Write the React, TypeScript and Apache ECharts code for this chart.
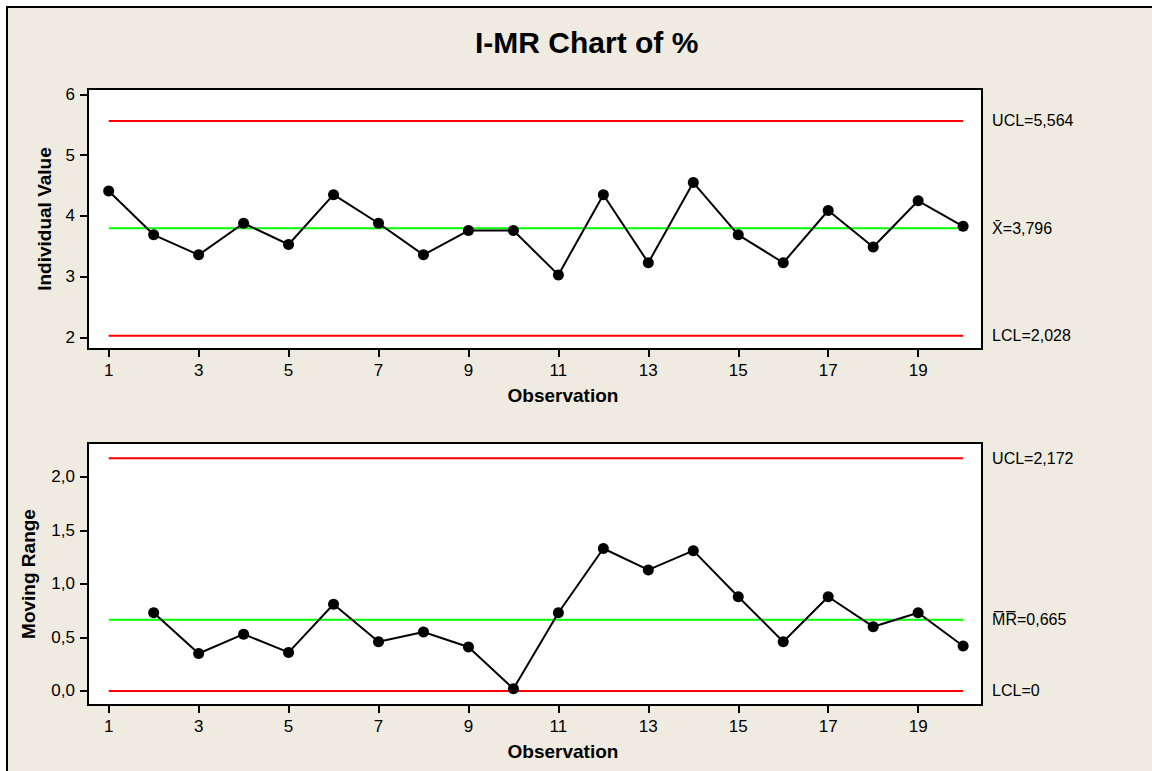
import React, { useEffect, useRef } from "react";
import * as echarts from "echarts";

const observations = [1, 2, 3, 4, 5, 6, 7, 8, 9, 10, 11, 12, 13, 14, 15, 16, 17, 18, 19, 20];
const individualValues = [4.41, 3.69, 3.36, 3.88, 3.53, 4.35, 3.88, 3.36, 3.76, 3.76, 3.03, 4.35, 3.23, 4.55, 3.69, 3.23, 4.09, 3.49, 4.25, 3.83];
const movingRanges = [null, 0.73, 0.35, 0.53, 0.36, 0.81, 0.46, 0.55, 0.41, 0.02, 0.73, 1.33, 1.13, 1.31, 0.88, 0.46, 0.88, 0.6, 0.73, 0.42];

const xTickValues = [1, 3, 5, 7, 9, 11, 13, 15, 17, 19];
const iTickValues = [2, 3, 4, 5, 6];
const mrTickValues = [0, 0.5, 1.0, 1.5, 2.0];

const iLimits = { ucl: 5.564, center: 3.796, lcl: 2.028 };
const mrLimits = { ucl: 2.172, center: 0.665, lcl: 0 };

const FONT = "'Liberation Sans', Arial, sans-serif";
const RED = "#ff0000";
const GREEN = "#00ff00";

const comma = (v: number, d: number) => v.toFixed(d).replace(".", ",");

export default function App() {
  const ref = useRef<HTMLDivElement>(null);

  useEffect(() => {
    if (!ref.current) return;
    const chart = echarts.init(ref.current, null, { renderer: "svg" });

    const first = observations[0];
    const last = observations[observations.length - 1];

    const limitSeries = (
      xIdx: number,
      value: number,
      color: string,
      label: string
    ) => ({
      type: "line",
      xAxisIndex: xIdx,
      yAxisIndex: xIdx,
      data: [
        [first, value],
        [last, value],
      ],
      symbol: "none",
      silent: true,
      lineStyle: { color, width: 2 },
      z: 2,
      endLabel: {
        show: true,
        formatter: label,
        distance: 29,
        color: "#000",
        fontSize: 16,
        fontFamily: FONT,
      },
    });

    const xAxisBase = (gridIndex: number) => ({
      type: "value",
      gridIndex,
      min: 0.54,
      max: 20.42,
      name: "Observation",
      nameLocation: "middle",
      nameGap: 37,
      nameTextStyle: {
        fontSize: 19,
        fontWeight: "bold",
        fontFamily: FONT,
        color: "#000",
        padding: [0, 0, 0, 56],
      },
      axisLine: { show: true, onZero: false, lineStyle: { color: "#000", width: 2 } },
      axisTick: {
        show: true,
        customValues: xTickValues,
        length: 8,
        lineStyle: { color: "#000", width: 2 },
      },
      axisLabel: {
        customValues: xTickValues,
        margin: 13,
        fontSize: 17,
        fontFamily: FONT,
        color: "#000",
      },
      splitLine: { show: false },
    });

    const option: any = {
      animation: false,
      backgroundColor: "#ffffff",
      title: {
        text: "I-MR Chart of %",
        left: 470,
        top: 22,
        textStyle: { fontSize: 30, fontWeight: "bold", fontFamily: FONT, color: "#000" },
      },
      graphic: [
        {
          type: "rect",
          z: -10,
          silent: true,
          shape: { x: 7, y: 7, width: 2000, height: 2000 },
          style: { fill: "#efebe1", stroke: "#000", lineWidth: 2 },
        },
      ],
      grid: [
        {
          left: 88,
          top: 89,
          width: 894,
          height: 260,
          show: true,
          backgroundColor: "#ffffff",
          borderColor: "#000",
          borderWidth: 2,
        },
        {
          left: 88,
          top: 443,
          width: 894,
          height: 262,
          show: true,
          backgroundColor: "#ffffff",
          borderColor: "#000",
          borderWidth: 2,
        },
      ],
      xAxis: [xAxisBase(0), xAxisBase(1)],
      yAxis: [
        {
          type: "value",
          gridIndex: 0,
          min: 1.81,
          max: 6.09,
          name: "Individual Value",
          nameLocation: "middle",
          nameGap: 34,
          nameTextStyle: { fontSize: 19, fontWeight: "bold", fontFamily: FONT, color: "#000" },
          axisLine: { show: true, lineStyle: { color: "#000", width: 2 } },
          axisTick: {
            show: true,
            customValues: iTickValues,
            length: 8,
            lineStyle: { color: "#000", width: 2 },
          },
          axisLabel: {
            customValues: iTickValues,
            margin: 13,
            fontSize: 17,
            fontFamily: FONT,
            color: "#000",
            formatter: (v: number) => String(v),
          },
          splitLine: { show: false },
        },
        {
          type: "value",
          gridIndex: 1,
          min: -0.131,
          max: 2.315,
          name: "Moving Range",
          nameLocation: "middle",
          nameGap: 50,
          nameTextStyle: { fontSize: 19, fontWeight: "bold", fontFamily: FONT, color: "#000" },
          axisLine: { show: true, lineStyle: { color: "#000", width: 2 } },
          axisTick: {
            show: true,
            customValues: mrTickValues,
            length: 8,
            lineStyle: { color: "#000", width: 2 },
          },
          axisLabel: {
            customValues: mrTickValues,
            margin: 13,
            fontSize: 17,
            fontFamily: FONT,
            color: "#000",
            formatter: (v: number) => comma(v, 1),
          },
          splitLine: { show: false },
        },
      ],
      series: [
        limitSeries(0, iLimits.ucl, RED, "UCL=" + comma(iLimits.ucl, 3)),
        limitSeries(0, iLimits.center, GREEN, "X\u0304=" + comma(iLimits.center, 3)),
        limitSeries(0, iLimits.lcl, RED, "LCL=" + comma(iLimits.lcl, 3)),
        limitSeries(1, mrLimits.ucl, RED, "UCL=" + comma(mrLimits.ucl, 3)),
        limitSeries(1, mrLimits.center, GREEN, "M\u0305R\u0305=" + comma(mrLimits.center, 3)),
        limitSeries(1, mrLimits.lcl, RED, "LCL=" + String(mrLimits.lcl)),
        {
          type: "line",
          name: "Individual Value",
          xAxisIndex: 0,
          yAxisIndex: 0,
          data: observations.map((o, i) => [o, individualValues[i]]),
          symbol: "circle",
          symbolSize: 11,
          itemStyle: { color: "#000" },
          lineStyle: { color: "#000", width: 2 },
          z: 5,
        },
        {
          type: "line",
          name: "Moving Range",
          xAxisIndex: 1,
          yAxisIndex: 1,
          data: observations
            .map((o, i) => [o, movingRanges[i]])
            .filter((d) => d[1] !== null),
          symbol: "circle",
          symbolSize: 11,
          itemStyle: { color: "#000" },
          lineStyle: { color: "#000", width: 2 },
          z: 5,
        },
      ],
    };

    chart.setOption(option);
    return () => chart.dispose();
  }, []);

  return (
    <div
      ref={ref}
      style={{ position: "fixed", left: 0, top: 0, width: 1152, height: 771 }}
    />
  );
}
